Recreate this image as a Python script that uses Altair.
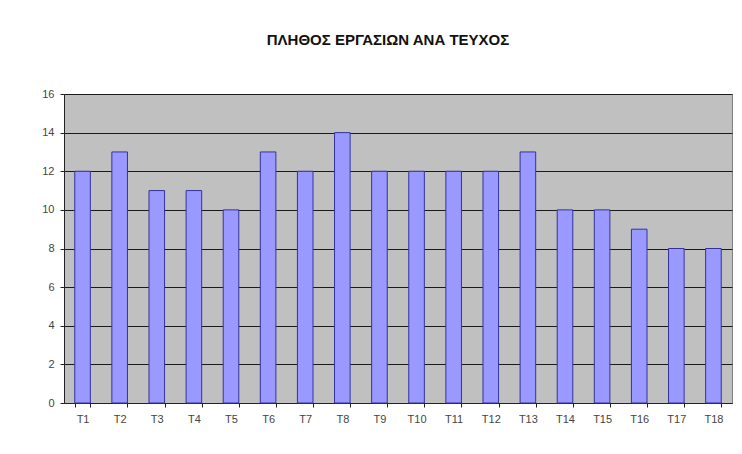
import altair as alt
import pandas as pd

issues = ["T1", "T2", "T3", "T4", "T5", "T6", "T7", "T8", "T9", "T10",
          "T11", "T12", "T13", "T14", "T15", "T16", "T17", "T18"]
counts = [12, 13, 11, 11, 10, 13, 12, 14, 12, 12, 12, 12, 13, 10, 10, 9, 8, 8]
y_ticks = [0, 2, 4, 6, 8, 10, 12, 14, 16]

df = pd.DataFrame({"issue": issues, "count": counts})

chart = alt.Chart(df).mark_bar(
    fill="#9999FF", stroke="#333399", strokeWidth=1
).encode(
    x=alt.X("issue:N", sort=issues, title=None,
            scale=alt.Scale(paddingInner=0.58, paddingOuter=0.29),
            axis=alt.Axis(labelAngle=0, tickBand="extent", tickSize=4,
                          tickColor="#222", domainColor="#222",
                          labelPadding=6, labelFontSize=11, labelColor="#444",
                          labelFont="Liberation Sans", grid=False)),
    y=alt.Y("count:Q", title=None,
            scale=alt.Scale(domain=[0, 16], nice=False),
            axis=alt.Axis(values=y_ticks, tickSize=4, tickColor="#222",
                          domainColor="#222", labelPadding=6, labelFontSize=11,
                          labelColor="#444", labelFont="Liberation Sans",
                          grid=True, gridColor="#1a1a1a", gridWidth=1)),
).properties(
    width=668,
    height=309,
    title=alt.TitleParams("ΠΛΗΘΟΣ ΕΡΓΑΣΙΩΝ ΑΝΑ ΤΕΥΧΟΣ", font="Liberation Sans",
                          fontSize=15, fontWeight="bold", color="#111",
                          offset=40, dx=-10),
    autosize=alt.AutoSizeParams(type="none"),
    padding={"left": 56, "top": 86, "right": 2, "bottom": 43},
    background="white",
).configure_view(
    fill="#C0C0C0", stroke="#808080", strokeWidth=1
)

chart.save("out.html", embed_options={"renderer": "svg", "actions": False})
